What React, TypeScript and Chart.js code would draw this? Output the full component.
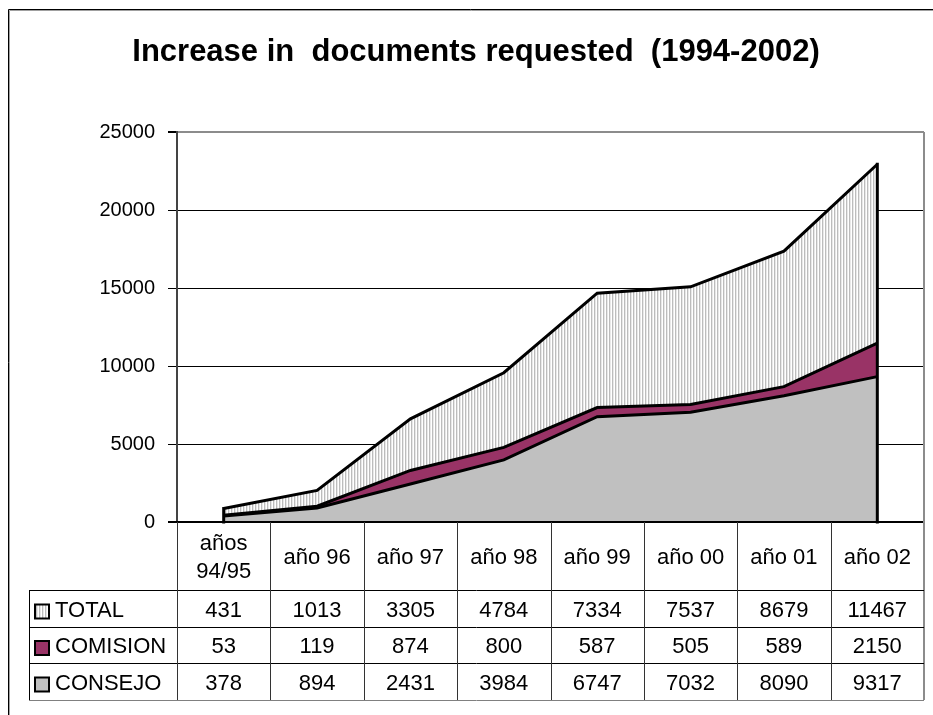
import React, { useEffect, useRef } from "react";
import { Chart, registerables } from "chart.js";

Chart.register(...registerables);

const titleText = "Increase in  documents requested  (1994-2002)";
const categories: (string | string[])[] = [
  ["años", "94/95"],
  "año 96",
  "año 97",
  "año 98",
  "año 99",
  "año 00",
  "año 01",
  "año 02",
];
const seriesNames = ["TOTAL", "COMISION", "CONSEJO"];
const totalValues = [431, 1013, 3305, 4784, 7334, 7537, 8679, 11467];
const comisionValues = [53, 119, 874, 800, 587, 505, 589, 2150];
const consejoValues = [378, 894, 2431, 3984, 6747, 7032, 8090, 9317];
const yTicks = [0, 5000, 10000, 15000, 20000, 25000];

const FONT = "'Liberation Sans', Arial, Helvetica, sans-serif";
const PURPLE = "#993366";
const SILVER = "#c0c0c0";

function makeHatch(): CanvasPattern | string {
  const c = document.createElement("canvas");
  c.width = 3;
  c.height = 4;
  const g = c.getContext("2d");
  if (!g) return "#e4e4e4";
  g.fillStyle = "#ffffff";
  g.fillRect(0, 0, 3, 4);
  g.fillStyle = "#bcbcbc";
  g.fillRect(0, 0, 1, 4);
  g.fillStyle = "#e8e8e8";
  g.fillRect(1, 0, 1, 4);
  return g.createPattern(c, "repeat") || "#e4e4e4";
}

export default function App() {
  const ref = useRef<HTMLCanvasElement | null>(null);

  useEffect(() => {
    if (!ref.current) return;
    const hatch = makeHatch();
    const rowValues = [totalValues, comisionValues, consejoValues];
    const rowFills = [hatch, PURPLE, SILVER];

    const decor = {
      id: "decor",
      afterDatasetsDraw(chart: any) {
        const ctx: CanvasRenderingContext2D = chart.ctx;
        const ys = chart.scales.y;
        const y0 = ys.getPixelForValue(0);
        const area = chart.chartArea;
        const meta = chart.getDatasetMeta(2);
        const pts = meta.data;
        ctx.save();
        ctx.strokeStyle = "#000";
        ctx.lineWidth = 3;
        ctx.lineCap = "square";
        [pts[0], pts[pts.length - 1]].forEach((p: any) => {
          ctx.beginPath();
          ctx.moveTo(p.x, y0);
          ctx.lineTo(p.x, p.y);
          ctx.stroke();
        });
        // zero axis line
        ctx.lineCap = "butt";
        ctx.lineWidth = 2;
        ctx.beginPath();
        ctx.moveTo(area.left - 9, y0);
        ctx.lineTo(area.right, y0);
        ctx.stroke();
        ctx.restore();
      },
      afterDraw(chart: any) {
        const ctx: CanvasRenderingContext2D = chart.ctx;
        const area = chart.chartArea;
        const xs = chart.scales.x;
        const n = categories.length;
        ctx.save();

        // outer frame
        ctx.strokeStyle = "#000";
        ctx.lineWidth = 1;
        ctx.beginPath();
        ctx.moveTo(8.5, 715);
        ctx.lineTo(8.5, 9.5);
        ctx.lineTo(933, 9.5);
        ctx.stroke();
        ctx.strokeStyle = "#a0a0a0";
        ctx.beginPath();
        ctx.moveTo(9.5, 715);
        ctx.lineTo(9.5, 10.5);
        ctx.lineTo(933, 10.5);
        ctx.stroke();

        // title
        ctx.fillStyle = "#000";
        ctx.font = `bold 31px ${FONT}`;
        ctx.textAlign = "center";
        ctx.textBaseline = "alphabetic";
        ctx.fillText(titleText, 476, 61);

        // table geometry
        const tableLeft = 29;
        const headTop = area.bottom;
        const headBottom = headTop + 68;
        const rowH = [37, 36, 37];
        const rowTops: number[] = [];
        let yy = headBottom;
        rowH.forEach((h) => {
          rowTops.push(yy);
          yy += h;
        });
        const tableBottom = yy;
        const spacing = xs.getPixelForValue(1) - xs.getPixelForValue(0);
        const bounds: number[] = [];
        for (let i = 0; i <= n; i++) {
          bounds.push(
            i < n ? xs.getPixelForValue(i) - spacing / 2 : xs.getPixelForValue(n - 1) + spacing / 2
          );
        }

        // right plot border
        ctx.strokeStyle = "#8c8c8c";
        ctx.lineWidth = 2;
        ctx.beginPath();
        ctx.moveTo(area.right, area.top);
        ctx.lineTo(area.right, tableBottom);
        ctx.stroke();

        // horizontal table lines
        ctx.lineWidth = 1;
        ctx.strokeStyle = "#000";
        rowTops.forEach((t) => {
          ctx.beginPath();
          ctx.moveTo(tableLeft, Math.round(t) + 0.5);
          ctx.lineTo(area.right, Math.round(t) + 0.5);
          ctx.stroke();
        });
        ctx.strokeStyle = "#808080";
        ctx.beginPath();
        ctx.moveTo(tableLeft, tableBottom + 0.5);
        ctx.lineTo(area.right, tableBottom + 0.5);
        ctx.stroke();

        // vertical table lines
        ctx.strokeStyle = "#000";
        ctx.beginPath();
        ctx.moveTo(tableLeft + 0.5, headBottom);
        ctx.lineTo(tableLeft + 0.5, tableBottom);
        ctx.stroke();
        ctx.strokeStyle = "#333";
        for (let i = 0; i < n; i++) {
          const bx = Math.round(bounds[i]) + 0.5;
          ctx.beginPath();
          ctx.moveTo(bx, headTop);
          ctx.lineTo(bx, tableBottom);
          ctx.stroke();
        }

        // header labels
        ctx.fillStyle = "#000";
        ctx.font = `22px ${FONT}`;
        ctx.textAlign = "center";
        ctx.textBaseline = "alphabetic";
        const headMid = (headTop + headBottom) / 2;
        categories.forEach((c, i) => {
          const cx = xs.getPixelForValue(i);
          if (Array.isArray(c)) {
            const lh = 28;
            const start = headMid + 8 - (lh * (c.length - 1)) / 2;
            c.forEach((line, k) => ctx.fillText(line, cx, start + k * lh));
          } else {
            ctx.fillText(c, cx, headMid + 8);
          }
        });

        // rows
        seriesNames.forEach((name, r) => {
          const mid = rowTops[r] + rowH[r] / 2;
          // swatch
          const sx = 35;
          const sy = mid + 3 - 7;
          ctx.fillStyle = rowFills[r] as any;
          ctx.fillRect(sx, sy, 14, 14);
          ctx.strokeStyle = "#000";
          ctx.lineWidth = 2;
          ctx.strokeRect(sx, sy, 14, 14);
          ctx.fillStyle = "#000";
          ctx.textAlign = "left";
          ctx.fillText(name, 55, mid + 8);
          ctx.textAlign = "center";
          rowValues[r].forEach((v, i) => {
            ctx.fillText(String(v), xs.getPixelForValue(i), mid + 8);
          });
        });

        ctx.restore();
      },
    };

    const lineBase = {
      borderColor: "#000",
      borderWidth: 3,
      pointRadius: 0,
      pointHoverRadius: 0,
      tension: 0,
      borderJoinStyle: "miter" as const,
    };

    const chart = new Chart(ref.current, {
      type: "line",
      data: {
        labels: categories.map((c) => (Array.isArray(c) ? c.join(" ") : c)),
        datasets: [
          { ...lineBase, label: "CONSEJO", data: consejoValues, backgroundColor: SILVER, fill: "origin" },
          { ...lineBase, label: "COMISION", data: comisionValues, backgroundColor: PURPLE, fill: "-1" },
          { ...lineBase, label: "TOTAL", data: totalValues, backgroundColor: hatch as any, fill: "-1" },
        ],
      },
      options: {
        responsive: false,
        animation: false,
        devicePixelRatio: 1,
        layout: { padding: { left: 0, right: 9, top: 132, bottom: 193 } },
        plugins: {
          legend: { display: false },
          title: { display: false },
          tooltip: { enabled: false },
        },
        events: [],
        scales: {
          x: { type: "category", display: false, offset: true, stacked: true },
          y: {
            stacked: true,
            min: 0,
            max: 25000,
            afterBuildTicks: (s: any) => {
              s.ticks = yTicks.map((v) => ({ value: v }));
            },
            afterFit: (s: any) => {
              s.width = 177;
            },
            ticks: {
              color: "#000",
              padding: 13,
              font: { family: FONT, size: 20 },
              callback: (v: any) => String(v),
            },
            grid: {
              color: (c: any) => (c.tick && c.tick.value === 25000 ? "#8c8c8c" : "#000"),
              lineWidth: (c: any) => (c.tick && (c.tick.value === 25000 || c.tick.value === 0) ? 2 : 1),
              tickColor: "#000",
              tickLength: 9,
            },
            border: { display: true, color: "#444", width: 2 },
          },
        },
      },
      plugins: [decor],
    });
    return () => chart.destroy();
  }, []);

  return (
    <canvas
      ref={ref}
      width={933}
      height={715}
      style={{ position: "absolute", left: 0, top: 0, width: 933, height: 715 }}
    />
  );
}
